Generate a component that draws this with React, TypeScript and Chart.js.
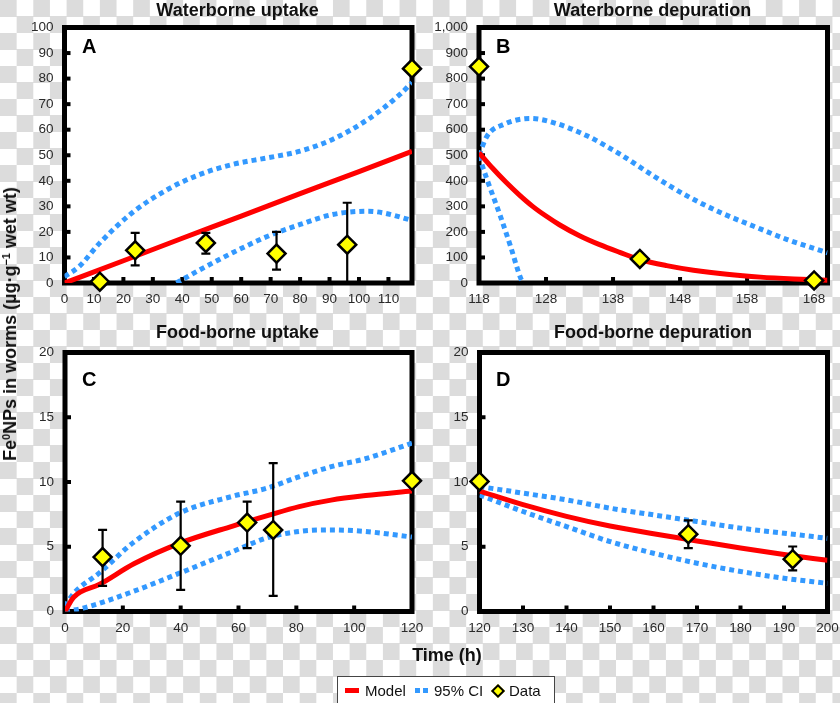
import React, { useEffect, useRef } from 'react';
import { Chart, registerables } from 'chart.js';

Chart.register(...registerables);

const FONT = '"Liberation Sans", Arial, Helvetica, sans-serif';
const RED = '#ff0000';
const BLUE = 'rgb(51,153,255)';
const YELLOW = '#ffff00';
const TICK_COLOR = '#2a2a2a';

// ---------- Panel A : Waterborne uptake ----------
const aXTicks = [0, 10, 20, 30, 40, 50, 60, 70, 80, 90, 100, 110];
const aYTicks = [0, 10, 20, 30, 40, 50, 60, 70, 80, 90, 100];
const aModelX = [0, 20, 40, 60, 80, 100, 118];
const aModelY = [0, 8.7, 17.5, 26.2, 35.0, 43.6, 51.5];
const aUpperX = [0, 5, 12, 23, 35, 46, 57, 69, 80, 91, 103, 114, 118];
const aUpperY = [2.5, 6.5, 15.7, 27.5, 36.6, 42.5, 46.4, 49, 51.6, 56.2, 64, 73.9, 78.5];
const aLowerX = [38, 46, 57, 69, 80, 91, 103, 108, 118];
const aLowerY = [0, 5.2, 11.8, 18.3, 22.9, 26.8, 28.1, 27.5, 24.5];
const aDataX = [12, 24, 48, 72, 96, 118];
const aDataY = [0.5, 12.8, 15.7, 11.5, 15, 83.9];
const aErrLow = [null, 6.9, 11.5, 5.2, 0, null];
const aErrHigh = [null, 19.6, 19.6, 20, 31.4, null];

// ---------- Panel B : Waterborne depuration ----------
const bXTicks = [118, 128, 138, 148, 158, 168];
const bYTicks = [0, 100, 200, 300, 400, 500, 600, 700, 800, 900, 1000];
const bModelX = [118, 120, 122, 124, 126, 128, 130, 133, 136, 139, 142, 146, 150, 155, 160, 165, 170];
const bModelY = [510, 450, 395, 345, 300, 262, 228, 185, 150, 120, 92, 68, 50, 34, 23, 16, 11];
const bUpperX = [118, 119.2, 121.7, 125.7, 129.2, 134.2, 139.1, 144.1, 149.1, 154.1, 159, 164, 170];
const bUpperY = [500, 575, 621, 644, 627, 575, 503, 418, 340, 275, 222, 170, 118];
const bLowerX = [118, 119.2, 121.2, 122.7, 124.2, 124.6];
const bLowerY = [497, 405, 261, 144, 20, 0];
const bDataX = [118, 142, 168];
const bDataY = [847, 94, 10];
const bErrLow = [null, null, null];
const bErrHigh = [null, null, null];

// ---------- Panel C : Food-borne uptake ----------
const cXTicks = [0, 20, 40, 60, 80, 100, 120];
const cYTicks = [0, 5, 10, 15, 20];
const cModelX = [0, 3, 12, 24, 40, 58, 70, 81, 92, 104, 120];
const cModelY = [0, 1.1, 2.1, 3.7, 5.3, 6.6, 7.4, 8.1, 8.6, 8.95, 9.3];
const cUpperX = [0, 3, 12, 23.5, 39.6, 58, 69.5, 80.9, 92.4, 103.9, 120];
const cUpperY = [0.4, 1.4, 3.0, 5.3, 7.6, 8.9, 9.5, 10.4, 11.2, 11.8, 13.0];
const cLowerX = [0, 6.3, 23.5, 39.6, 58, 69.5, 80.9, 92.4, 103.9, 120];
const cLowerY = [0, 0.26, 1.54, 2.96, 4.63, 5.66, 6.18, 6.3, 6.18, 5.75];
const cDataX = [13, 40, 63, 72, 120];
const cDataY = [4.2, 5.07, 6.87, 6.3, 10.09];
const cErrLow = [1.98, 1.67, 4.89, 1.2, null];
const cErrHigh = [6.3, 8.49, 8.49, 11.45, null];

// ---------- Panel D : Food-borne depuration ----------
const dXTicks = [120, 130, 140, 150, 160, 170, 180, 190, 200];
const dYTicks = [0, 5, 10, 15, 20];
const dModelX = [120, 130, 140, 150, 160, 170, 180, 190, 200];
const dModelY = [9.3, 8.25, 7.35, 6.6, 6.0, 5.45, 4.9, 4.4, 3.95];
const dUpperX = [120, 130, 140, 150, 160, 170, 180, 190, 200];
const dUpperY = [9.65, 9.14, 8.62, 7.98, 7.46, 6.95, 6.44, 6.05, 5.65];
const dLowerX = [120, 130, 140, 150, 160, 170, 180, 190, 200];
const dLowerY = [9.0, 7.72, 6.56, 5.4, 4.5, 3.73, 3.09, 2.57, 2.17];
const dDataX = [120, 168, 192];
const dDataY = [10.04, 5.97, 4.04];
const dErrLow = [null, 4.89, 3.17];
const dErrHigh = [null, 7.03, 5.02];

const panelTitles = ['Waterborne uptake', 'Waterborne depuration', 'Food-borne uptake', 'Food-borne depuration'];
const panelLetters = ['A', 'B', 'C', 'D'];
const legendLabels = ['Model', '95% CI', 'Data'];
const xAxisTitle = 'Time (h)';

type Pt = { x: number; y: number };
const zip = (xs: number[], ys: number[]): Pt[] => xs.map((x, i) => ({ x, y: ys[i] }));

interface PanelSpec {
  key: string;
  left: number;
  top: number;
  width: number;
  height: number;
  area: { left: number; top: number; right: number; bottom: number };
  xMin: number;
  xMax: number;
  xTicks: number[];
  yMin: number;
  yMax: number;
  yTicks: number[];
  model: Pt[];
  upper: Pt[];
  lower: Pt[];
  points: Pt[];
  errLow: (number | null)[];
  errHigh: (number | null)[];
}

const PANELS: PanelSpec[] = [
  {
    key: 'A', left: 0, top: 0, width: 430, height: 320,
    area: { left: 64.5, top: 27.5, right: 412, bottom: 283 },
    xMin: 0, xMax: 118, xTicks: aXTicks, yMin: 0, yMax: 100, yTicks: aYTicks,
    model: zip(aModelX, aModelY), upper: zip(aUpperX, aUpperY), lower: zip(aLowerX, aLowerY),
    points: zip(aDataX, aDataY), errLow: aErrLow, errHigh: aErrHigh,
  },
  {
    key: 'B', left: 420, top: 0, width: 420, height: 320,
    area: { left: 59, top: 27.5, right: 407.5, bottom: 283 },
    xMin: 118, xMax: 170, xTicks: bXTicks, yMin: 0, yMax: 1000, yTicks: bYTicks,
    model: zip(bModelX, bModelY), upper: zip(bUpperX, bUpperY), lower: zip(bLowerX, bLowerY),
    points: zip(bDataX, bDataY), errLow: bErrLow, errHigh: bErrHigh,
  },
  {
    key: 'C', left: 0, top: 320, width: 430, height: 330,
    area: { left: 65, top: 32.5, right: 412, bottom: 291.5 },
    xMin: 0, xMax: 120, xTicks: cXTicks, yMin: 0, yMax: 20, yTicks: cYTicks,
    model: zip(cModelX, cModelY), upper: zip(cUpperX, cUpperY), lower: zip(cLowerX, cLowerY),
    points: zip(cDataX, cDataY), errLow: cErrLow, errHigh: cErrHigh,
  },
  {
    key: 'D', left: 420, top: 320, width: 420, height: 330,
    area: { left: 59.5, top: 32.5, right: 407.5, bottom: 291.5 },
    xMin: 120, xMax: 200, xTicks: dXTicks, yMin: 0, yMax: 20, yTicks: dYTicks,
    model: zip(dModelX, dModelY), upper: zip(dUpperX, dUpperY), lower: zip(dLowerX, dLowerY),
    points: zip(dDataX, dDataY), errLow: dErrLow, errHigh: dErrHigh,
  },
];

function buildConfig(p: PanelSpec): any {
  const framePlugin = {
    id: 'frame' + p.key,
    beforeDraw(chart: any) {
      const { ctx, chartArea: a } = chart;
      ctx.save();
      ctx.fillStyle = '#ffffff';
      ctx.fillRect(a.left, a.top, a.right - a.left, a.bottom - a.top);
      ctx.restore();
    },
    beforeDatasetsDraw(chart: any) {
      const { ctx, chartArea: a, scales } = chart;
      ctx.save();
      ctx.strokeStyle = '#000';
      ctx.lineWidth = 5;
      ctx.strokeRect(a.left, a.top, a.right - a.left, a.bottom - a.top);
      ctx.fillStyle = '#000';
      scales.y.ticks.forEach((t: any) => {
        const y = scales.y.getPixelForValue(t.value);
        ctx.fillRect(a.left + 2, y - 2, 4, 4);
      });
      scales.x.ticks.forEach((t: any) => {
        const x = scales.x.getPixelForValue(t.value);
        ctx.fillRect(x - 2, a.bottom - 6, 4, 4);
      });
      ctx.restore();
    },
    beforeDatasetDraw(chart: any, args: any) {
      if (args.index !== 0) return;
      const { ctx, scales } = chart;
      ctx.save();
      ctx.strokeStyle = '#000';
      ctx.lineWidth = 2.2;
      p.points.forEach((pt, i) => {
        const lo = p.errLow[i];
        const hi = p.errHigh[i];
        if (lo == null || hi == null) return;
        const x = scales.x.getPixelForValue(pt.x);
        const yl = scales.y.getPixelForValue(lo);
        const yh = scales.y.getPixelForValue(hi);
        ctx.beginPath();
        ctx.moveTo(x, yl);
        ctx.lineTo(x, yh);
        ctx.moveTo(x - 4.5, yl);
        ctx.lineTo(x + 4.5, yl);
        ctx.moveTo(x - 4.5, yh);
        ctx.lineTo(x + 4.5, yh);
        ctx.stroke();
      });
      ctx.restore();
    },
  };

  const tickFont = { family: FONT, size: 13.5 };

  return {
    type: 'line',
    data: {
      datasets: [
        {
          label: 'Data',
          data: p.points,
          showLine: false,
          pointStyle: 'rectRot',
          pointRadius: 9,
          pointBackgroundColor: YELLOW,
          pointBorderColor: '#000',
          pointBorderWidth: 2.5,
          clip: false,
        },
        {
          label: 'Model',
          data: p.model,
          borderColor: RED,
          borderWidth: 5,
          pointRadius: 0,
          cubicInterpolationMode: 'monotone',
          fill: false,
        },
        {
          label: '95% CI upper',
          data: p.upper,
          borderColor: BLUE,
          borderWidth: 5,
          borderDash: [5, 4],
          borderCapStyle: 'butt',
          pointRadius: 0,
          cubicInterpolationMode: 'monotone',
          fill: false,
        },
        {
          label: '95% CI lower',
          data: p.lower,
          borderColor: BLUE,
          borderWidth: 5,
          borderDash: [5, 4],
          borderCapStyle: 'butt',
          pointRadius: 0,
          cubicInterpolationMode: 'monotone',
          fill: false,
        },
      ],
    },
    options: {
      responsive: false,
      maintainAspectRatio: false,
      animation: false,
      devicePixelRatio: 1,
      events: [],
      layout: {
        padding: { left: 0, top: p.area.top, right: p.width - p.area.right, bottom: 0 },
      },
      plugins: {
        legend: { display: false },
        tooltip: { enabled: false },
        title: { display: false },
      },
      scales: {
        x: {
          type: 'linear',
          min: p.xMin,
          max: p.xMax,
          grid: { display: false, drawTicks: false },
          border: { display: false },
          ticks: {
            font: tickFont,
            color: TICK_COLOR,
            padding: 8.5,
            maxRotation: 0,
            autoSkip: false,
            callback: (v: number) => String(v),
          },
          afterBuildTicks: (s: any) => {
            s.ticks = p.xTicks.map((v) => ({ value: v }));
          },
          afterFit: (s: any) => {
            s.height = p.height - p.area.bottom;
            s.paddingLeft = 0;
            s.paddingRight = 0;
            s.paddingTop = 0;
            s.paddingBottom = 0;
          },
        },
        y: {
          type: 'linear',
          min: p.yMin,
          max: p.yMax,
          grid: { display: false, drawTicks: false },
          border: { display: false },
          ticks: {
            font: tickFont,
            color: TICK_COLOR,
            padding: 11,
            autoSkip: false,
            callback: (v: number) => v.toLocaleString('en-US'),
          },
          afterBuildTicks: (s: any) => {
            s.ticks = p.yTicks.map((v) => ({ value: v }));
          },
          afterFit: (s: any) => {
            s.width = p.area.left;
            s.paddingLeft = 0;
            s.paddingRight = 0;
            s.paddingTop = 0;
            s.paddingBottom = 0;
          },
        },
      },
    },
    plugins: [framePlugin],
  };
}

function Panel({ spec }: { spec: PanelSpec }) {
  const ref = useRef<HTMLCanvasElement>(null);
  useEffect(() => {
    const chart = new Chart(ref.current as HTMLCanvasElement, buildConfig(spec));
    return () => chart.destroy();
  }, [spec]);
  return (
    <canvas
      ref={ref}
      width={spec.width}
      height={spec.height}
      style={{ position: 'absolute', left: spec.left, top: spec.top, width: spec.width, height: spec.height }}
    />
  );
}

const titlePos = [
  { x: 237.5, top: 1 },
  { x: 652.5, top: 1 },
  { x: 237.5, top: 323 },
  { x: 653, top: 323 },
];
const letterPos = [
  { left: 82, top: 35.5 },
  { left: 496, top: 35.5 },
  { left: 82, top: 368.5 },
  { left: 496, top: 368.5 },
];

export default function App() {
  useEffect(() => {
    document.body.style.margin = '0';
  }, []);

  const bold: React.CSSProperties = { fontFamily: FONT, fontWeight: 700, color: '#111', whiteSpace: 'nowrap' };
  const supStyle: React.CSSProperties = { fontSize: '0.6em', lineHeight: 0, verticalAlign: '0.6em' };

  return (
    <div
      style={{
        position: 'absolute',
        left: 0,
        top: 0,
        width: 840,
        height: 703,
        overflow: 'hidden',
        backgroundColor: '#ffffff',
        backgroundImage: 'repeating-conic-gradient(#ffffff 0% 25%, #dcdcdc 0% 50%)',
        backgroundSize: '33.3px 33px',
        fontFamily: FONT,
      }}
    >
      {PANELS.map((p) => (
        <Panel key={p.key} spec={p} />
      ))}

      {panelTitles.map((t, i) => (
        <div
          key={t}
          style={{
            ...bold,
            position: 'absolute',
            left: titlePos[i].x,
            top: titlePos[i].top,
            transform: 'translateX(-50%)',
            fontSize: 18,
            lineHeight: '18px',
          }}
        >
          {t}
        </div>
      ))}

      {panelLetters.map((l, i) => (
        <div
          key={l}
          style={{
            ...bold,
            position: 'absolute',
            left: letterPos[i].left,
            top: letterPos[i].top,
            fontSize: 20,
            lineHeight: '20px',
            color: '#000',
          }}
        >
          {l}
        </div>
      ))}

      <div
        style={{
          ...bold,
          position: 'absolute',
          left: 10,
          top: 324,
          transform: 'translate(-50%, -50%) rotate(-90deg)',
          fontSize: 18,
          lineHeight: '18px',
        }}
      >
        Fe<sup style={supStyle}>0</sup>NPs in worms (µg·g<sup style={supStyle}>−1</sup> wet wt)
      </div>

      <div
        style={{
          ...bold,
          position: 'absolute',
          left: 447,
          top: 646,
          transform: 'translateX(-50%)',
          fontSize: 18,
          lineHeight: '18px',
        }}
      >
        {xAxisTitle}
      </div>

      {/* Legend */}
      <div
        style={{
          position: 'absolute',
          left: 337,
          top: 676,
          width: 218,
          height: 32,
          background: '#fff',
          border: '1px solid #444',
          boxSizing: 'border-box',
        }}
      />
      <div style={{ position: 'absolute', left: 345, top: 688, width: 14, height: 5, background: RED }} />
      <div style={{ position: 'absolute', left: 365, top: 682.5, fontSize: 15, lineHeight: '15px', color: '#111' }}>
        {legendLabels[0]}
      </div>
      <div style={{ position: 'absolute', left: 415, top: 688, width: 5, height: 5, background: BLUE }} />
      <div style={{ position: 'absolute', left: 423, top: 688, width: 5, height: 5, background: BLUE }} />
      <div style={{ position: 'absolute', left: 434, top: 682.5, fontSize: 15, lineHeight: '15px', color: '#111' }}>
        {legendLabels[1]}
      </div>
      <div
        style={{
          position: 'absolute',
          left: 493,
          top: 685.5,
          width: 6,
          height: 6,
          background: YELLOW,
          border: '2px solid #000',
          transform: 'rotate(45deg)',
        }}
      />
      <div style={{ position: 'absolute', left: 509, top: 682.5, fontSize: 15, lineHeight: '15px', color: '#111' }}>
        {legendLabels[2]}
      </div>
    </div>
  );
}
